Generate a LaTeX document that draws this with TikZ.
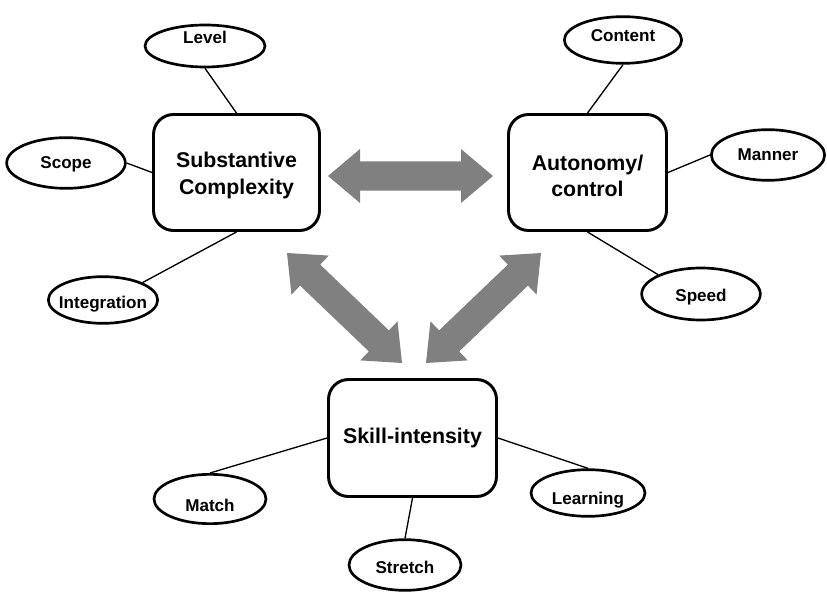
\documentclass[tikz,border=0pt]{standalone}
\usepackage{fontspec}
\setmainfont{Liberation Sans}
\usetikzlibrary{shapes.geometric,calc}
\definecolor{arrowgray}{HTML}{808080}
\newcommand\olab[2][0pt]{\makebox[0pt]{\raisebox{\dimexpr#1-4.5pt\relax}[0pt][0pt]{#2}}}
\newcommand\fatarrow[2]{%
  \fill[arrowgray] (#1)
    -- ($($(#1)!24pt!(#2)$)!20.25pt!90:(#2)$)
    -- ($($(#1)!24pt!(#2)$)!10.9pt!90:(#2)$)
    -- ($($(#2)!24pt!(#1)$)!10.9pt!-90:(#1)$)
    -- ($($(#2)!24pt!(#1)$)!20.25pt!-90:(#1)$)
    -- (#2)
    -- ($($(#2)!24pt!(#1)$)!20.25pt!90:(#1)$)
    -- ($($(#2)!24pt!(#1)$)!10.9pt!90:(#1)$)
    -- ($($(#1)!24pt!(#2)$)!10.9pt!-90:(#2)$)
    -- ($($(#1)!24pt!(#2)$)!20.25pt!-90:(#2)$)
    -- cycle;}
\tikzset{
  mainbox/.style={draw, line width=2.2pt, rounded corners=15pt, inner sep=0pt,
    align=center, font=\fontsize{16}{20}\selectfont\bfseries},
  oval/.style={ellipse, draw, line width=2pt, inner sep=0pt,
    font=\fontsize{12.8}{15}\selectfont\bfseries},
  link/.style={line width=1pt}
}
\begin{document}
\begin{tikzpicture}[x=0.75pt,y=-0.75pt]
\useasboundingbox (0,0) rectangle (827,595);
% main boxes
\node[mainbox, minimum width=124.5pt, minimum height=87pt] (subst) at (236.5,172.5) {\rule{0pt}{16.5pt}Substantive\\Complexity};
\node[mainbox, minimum width=118.5pt, minimum height=87pt] (auto) at (587.5,172.5) {\rule{0pt}{16.5pt}Autonomy/\\control};
\node[mainbox, minimum width=126pt, minimum height=87.75pt] (skill) at (412.5,438) {Skill-intensity};
% ellipses
\node[oval, minimum width=90pt, minimum height=31.5pt] (level) at (205,46) {\olab[6pt]{Level}};
\node[oval, minimum width=89pt, minimum height=38pt] (scope) at (66,163) {\olab{Scope}};
\node[oval, minimum width=82pt, minimum height=35pt] (integ) at (103,300) {\olab[-1.5pt]{Integration}};
\node[oval, minimum width=88pt, minimum height=35pt] (content) at (623,40) {\olab[3pt]{Content}};
\node[oval, minimum width=85pt, minimum height=38pt] (manner) at (768,155) {\olab{Manner}};
\node[oval, minimum width=89pt, minimum height=39pt] (speed) at (701,294) {\olab[-0.75pt]{Speed}};
\node[oval, minimum width=84pt, minimum height=37pt] (match) at (210,499) {\olab[-4.5pt]{Match}};
\node[oval, minimum width=85.5pt, minimum height=35pt] (learning) at (588,493) {\olab[-3.75pt]{Learning}};
\node[oval, minimum width=84pt, minimum height=38pt] (stretch) at (405,565) {\olab[-1.5pt]{Stretch}};
% connectors
\draw[link] (level.south) -- (subst.north);
\draw[link] (scope.east) -- (subst.west);
\draw[link] (integ.north east) -- (subst.south);
\draw[link] (content.south) -- (auto.north);
\draw[link] (manner.west) -- (auto.east);
\draw[link] (speed.north west) -- (auto.south);
\draw[link] (match.north) -- (skill.west);
\draw[link] (learning.north) -- (skill.east);
\draw[link] (stretch.north) -- (skill.south);
% fat double arrows
\coordinate (h1) at (328,176);
\coordinate (h2) at (493,176);
\coordinate (l1) at (287,253);
\coordinate (l2) at (402,363);
\coordinate (r1) at (426,363);
\coordinate (r2) at (541,253);
\fatarrow{h1}{h2}
\fatarrow{l1}{l2}
\fatarrow{r1}{r2}
\end{tikzpicture}
\end{document}
